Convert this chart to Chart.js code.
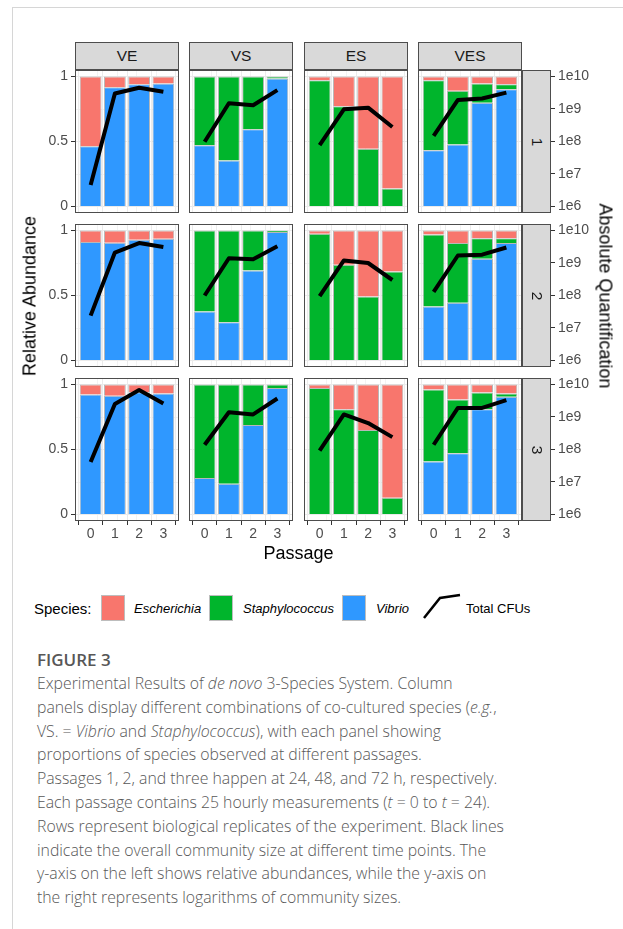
<!DOCTYPE html>
<html>
<head>
<meta charset="utf-8">
<script src="https://cdn.jsdelivr.net/npm/chart.js@4.4.1/dist/chart.umd.min.js"></script>
<style>
  html, body { margin: 0; padding: 0; background: #fff; }
  body { width: 623px; height: 929px; position: relative; overflow: hidden;
         font-family: "Liberation Sans", Arial, sans-serif; }
  .frame-top { position: absolute; left: 12px; top: 7px; right: 0; height: 1px; background: #d6d6d6; }
  .frame-left { position: absolute; left: 12px; top: 7px; bottom: 0; width: 1px; background: #d6d6d6; }
  canvas { position: absolute; }
  .strip { position: absolute; background: #d9d9d9; border: 1px solid #4d4d4d; box-sizing: border-box;
           color: #1a1a1a; font-size: 15.5px; z-index: 2; }
  .strip span { position: absolute; left: 50%; top: 50%; white-space: nowrap; }
  .title { position: absolute; font-size: 18px; color: #000; white-space: nowrap; }
  .leg { position: absolute; white-space: nowrap; color: #000; }
  .key { position: absolute; box-sizing: border-box; border: 1px solid #bdbdbd; }
  .caption { position: absolute; left: 37px; color: #575757; font-family: "Open Sans", "Noto Sans", sans-serif;
             white-space: nowrap; }
</style>
</head>
<body>
<div class="frame-top"></div>
<div class="frame-left"></div>
<div id="plots"></div>
<div id="legend"></div>
<div class="caption" id="figLabel" style="top:648px;font-size:17px;font-weight:600;line-height:24px;">FIGURE 3</div>
<div class="caption" id="figText" style="top:672px;font-size:15.8px;font-weight:300;line-height:23.8px;">
Experimental Results of <i>de novo</i> 3-Species System. Column<br>
panels display different combinations of co-cultured species (<i>e.g.</i>,<br>
VS. = <i>Vibrio</i> and <i>Staphylococcus</i>), with each panel showing<br>
proportions of species observed at different passages.<br>
Passages 1, 2, and three happen at 24, 48, and 72 h, respectively.<br>
Each passage contains 25 hourly measurements (<i>t</i> = 0 to <i>t</i> = 24).<br>
Rows represent biological replicates of the experiment. Black lines<br>
indicate the overall community size at different time points. The<br>
y-axis on the left shows relative abundances, while the y-axis on<br>
the right represents logarithms of community sizes.
</div>
<script>
// ---- data -------------------------------------------------------------
const passages = [0, 1, 2, 3];
const combos = ['VE', 'VS', 'ES', 'VES'];
const replicates = ['1', '2', '3'];
const species = ['Escherichia', 'Staphylococcus', 'Vibrio'];
const abundanceTicks = [0, 0.5, 1];
const cfuTicks = [1e6, 1e7, 1e8, 1e9, 1e10];

// relative abundance: one row per replicate, one value per passage
const vibrioVE      = [[0.464, 0.918, 0.940, 0.946], [0.911, 0.905, 0.928, 0.936], [0.924, 0.913, 0.940, 0.931]];
const escherichiaVE = [[0.536, 0.082, 0.060, 0.054], [0.089, 0.095, 0.072, 0.064], [0.076, 0.087, 0.060, 0.069]];

const vibrioVS = [[0.472, 0.354, 0.595, 0.985], [0.377, 0.295, 0.692, 0.988], [0.281, 0.237, 0.689, 0.974]];
const staphVS  = [[0.528, 0.646, 0.405, 0.015], [0.623, 0.705, 0.308, 0.012], [0.719, 0.763, 0.311, 0.026]];

const staphES       = [[0.972, 0.772, 0.444, 0.138], [0.975, 0.736, 0.492, 0.685], [0.974, 0.809, 0.650, 0.128]];
const escherichiaES = [[0.028, 0.228, 0.556, 0.862], [0.025, 0.264, 0.508, 0.315], [0.026, 0.191, 0.350, 0.872]];

const vibrioVES      = [[0.433, 0.477, 0.798, 0.902], [0.415, 0.444, 0.782, 0.903], [0.408, 0.472, 0.809, 0.905]];
const staphVES       = [[0.539, 0.413, 0.148, 0.039], [0.554, 0.459, 0.159, 0.038], [0.554, 0.413, 0.130, 0.026]];
const escherichiaVES = [[0.028, 0.110, 0.054, 0.059], [0.031, 0.097, 0.059, 0.059], [0.038, 0.115, 0.061, 0.069]];

// total CFUs per replicate and passage
const cfuVE  = [[4.6e6, 3.0e9, 4.5e9, 3.4e9], [2.4e7, 2.1e9, 4.1e9, 3.1e9], [4.1e7, 2.5e9, 6.8e9, 2.6e9]];
const cfuVS  = [[9.8e7, 1.5e9, 1.3e9, 3.8e9], [1.0e8, 1.4e9, 1.3e9, 3.3e9], [1.4e8, 1.4e9, 1.2e9, 3.7e9]];
const cfuES  = [[7.8e7, 9.8e8, 1.1e9, 2.8e8], [9.5e7, 1.2e9, 1.0e9, 3.0e8], [9.3e7, 1.2e9, 6.5e8, 2.4e8]];
const cfuVES = [[1.5e8, 1.9e9, 2.1e9, 3.2e9], [1.3e8, 1.7e9, 1.8e9, 3.0e9], [1.4e8, 1.9e9, 1.9e9, 3.3e9]];

// which series belong to each column panel
const panelSeries = {
  VE:  { Vibrio: vibrioVE,  Staphylococcus: null,     Escherichia: escherichiaVE,  cfu: cfuVE },
  VS:  { Vibrio: vibrioVS,  Staphylococcus: staphVS,  Escherichia: null,           cfu: cfuVS },
  ES:  { Vibrio: null,      Staphylococcus: staphES,  Escherichia: escherichiaES,  cfu: cfuES },
  VES: { Vibrio: vibrioVES, Staphylococcus: staphVES, Escherichia: escherichiaVES, cfu: cfuVES }
};

// ---- styling ----------------------------------------------------------
const fillColors = { Escherichia: '#F8766D', Staphylococcus: '#00B52C', Vibrio: '#2F98FF' };
const stackOrder = ['Vibrio', 'Staphylococcus', 'Escherichia'];
const COL_X = [75, 189, 304, 418];
const ROW_Y = [70, 224, 378];
const PANEL_W = 104, PANEL_H = 143;
const STRIP_W = 29, STRIP_H = 28;
const X_MIN = -0.645, X_MAX = 3.645;
const tickFont = { family: '"Liberation Sans", Arial, sans-serif', size: 14 };
const TICK_TEXT = '#4d4d4d', TICK_MARK = '#333333', GRID = '#ebebeb';
const HIDDEN = 'rgba(0,0,0,0)';

const panelFrame = {
  id: 'panelFrame',
  afterDraw(chart) {
    const { ctx, chartArea: a } = chart;
    ctx.save();
    ctx.strokeStyle = '#4d4d4d';
    ctx.lineWidth = 1;
    ctx.strokeRect(Math.round(a.left) + 0.5, Math.round(a.top) + 0.5,
                   Math.round(a.width) - 1, Math.round(a.height) - 1);
    ctx.restore();
  }
};

const plots = document.getElementById('plots');

function addStrip(x, y, w, h, text, rotate) {
  const d = document.createElement('div');
  d.className = 'strip';
  Object.assign(d.style, { left: x + 'px', top: y + 'px', width: w + 'px', height: h + 'px' });
  const s = document.createElement('span');
  s.textContent = text;
  s.style.transform = 'translate(-50%,-50%)' + (rotate ? ' rotate(90deg)' : '');
  d.appendChild(s);
  plots.appendChild(d);
}

combos.forEach((combo, c) => addStrip(COL_X[c], ROW_Y[0] - STRIP_H, PANEL_W, STRIP_H, combo, false));
replicates.forEach((rep, r) => addStrip(COL_X[3] + PANEL_W, ROW_Y[r], STRIP_W, PANEL_H, rep, true));

const tickValue = ctx => (ctx && ctx.tick) ? ctx.tick.value : NaN;
const isMajorY = v => abundanceTicks.includes(v);

replicates.forEach((rep, r) => {
  combos.forEach((combo, c) => {
    const L = c === 0 ? 50 : 0;
    const R = c === 3 ? 80 : 0;
    const B = r === replicates.length - 1 ? 30 : 0;
    const cv = document.createElement('canvas');
    cv.width = PANEL_W + L + R;
    cv.height = PANEL_H + B;
    cv.style.left = (COL_X[c] - L) + 'px';
    cv.style.top = ROW_Y[r] + 'px';
    plots.appendChild(cv);

    const series = panelSeries[combo];
    const datasets = [{
      type: 'line',
      label: 'Total CFUs',
      data: passages.map((p, i) => ({ x: p, y: series.cfu[r][i] })),
      yAxisID: 'yLog',
      borderColor: '#000',
      borderWidth: 4,
      borderCapStyle: 'butt',
      borderJoinStyle: 'round',
      pointRadius: 0,
      tension: 0,
      order: 0
    }];
    stackOrder.forEach(name => {
      const vals = series[name];
      if (!vals) return;
      datasets.push({
        type: 'bar',
        label: name,
        data: passages.map((p, i) => ({ x: p, y: vals[r][i] })),
        yAxisID: 'y',
        backgroundColor: fillColors[name],
        borderColor: '#b8b8b8',
        borderWidth: 1,
        categoryPercentage: 1,
        barPercentage: 0.9,
        order: 1
      });
    });

    new Chart(cv, {
      type: 'bar',
      data: { datasets },
      plugins: [panelFrame],
      options: {
        responsive: false,
        animation: false,
        devicePixelRatio: 1,
        layout: { padding: 0 },
        plugins: { legend: { display: false }, tooltip: { enabled: false } },
        scales: {
          // passage axis: labelled ticks and major grid at each passage
          x: {
            type: 'linear', min: X_MIN, max: X_MAX, stacked: true, offset: false,
            afterBuildTicks: s => { s.ticks = passages.map(v => ({ value: v })); },
            afterFit: s => { s.height = B; s.paddingLeft = 0; s.paddingRight = 0; },
            ticks: { display: B > 0, autoSkip: false, maxRotation: 0, padding: 1, color: TICK_TEXT, font: tickFont },
            grid: { color: GRID, lineWidth: 1, drawTicks: B > 0, tickLength: 4, tickWidth: 1, tickColor: TICK_MARK },
            border: { display: false }
          },
          // minor grid half-way between passages
          xMinor: {
            type: 'linear', position: 'bottom', min: X_MIN, max: X_MAX,
            afterBuildTicks: s => { s.ticks = [-0.5, 0.5, 1.5, 2.5, 3.5].map(v => ({ value: v })); },
            afterFit: s => { s.height = 0; s.paddingLeft = 0; s.paddingRight = 0; },
            ticks: { display: false },
            grid: { color: GRID, lineWidth: 0.6, drawTicks: false },
            border: { display: false }
          },
          y: {
            type: 'linear', position: 'left', min: -0.05, max: 1.05, stacked: true,
            afterBuildTicks: s => { s.ticks = [0, 0.25, 0.5, 0.75, 1].map(v => ({ value: v })); },
            afterFit: s => { s.width = L; s.paddingTop = 0; s.paddingBottom = 0; },
            ticks: { display: L > 0, padding: 3, color: TICK_TEXT, font: tickFont,
                     callback: v => isMajorY(v) ? String(v) : '' },
            grid: { color: GRID, lineWidth: ctx => isMajorY(tickValue(ctx)) ? 1 : 0.6,
                    drawTicks: L > 0, tickLength: 4, tickWidth: 1,
                    tickColor: ctx => isMajorY(tickValue(ctx)) ? TICK_MARK : HIDDEN },
            border: { display: false }
          },
          yLog: {
            type: 'logarithmic', position: 'right', display: R > 0,
            min: Math.pow(10, 5.8), max: Math.pow(10, 10.2),
            afterBuildTicks: s => { s.ticks = cfuTicks.map(v => ({ value: v })); },
            afterFit: s => { s.width = R; s.paddingTop = 0; s.paddingBottom = 0; },
            ticks: { padding: 3, color: TICK_TEXT, font: tickFont,
                     callback: v => '1e' + Math.round(Math.log10(v)) },
            grid: { drawOnChartArea: false, drawTicks: true, tickLength: STRIP_W + 4, tickWidth: 1, tickColor: TICK_MARK },
            border: { display: false }
          }
        }
      }
    });
  });
});

// ---- axis titles ------------------------------------------------------
function addTitle(text, cx, cy, angle) {
  const d = document.createElement('div');
  d.className = 'title';
  d.textContent = text;
  Object.assign(d.style, { left: cx + 'px', top: cy + 'px',
    transform: 'translate(-50%,-50%)' + (angle ? ' rotate(' + angle + 'deg)' : '') });
  document.body.appendChild(d);
}
const plotMidY = (ROW_Y[0] + ROW_Y[2] + PANEL_H) / 2;
addTitle('Relative Abundance', 30, plotMidY, -90);
addTitle('Absolute Quantification', 605, plotMidY, 90);
addTitle('Passage', (COL_X[0] + COL_X[3] + PANEL_W) / 2, 553, 0);

// ---- legend -----------------------------------------------------------
const legend = document.getElementById('legend');
function legText(text, x, size, italic) {
  const s = document.createElement('div');
  s.className = 'leg';
  s.textContent = text;
  Object.assign(s.style, { left: x + 'px', top: '608px', fontSize: size + 'px',
    transform: 'translateY(-50%)', fontStyle: italic ? 'italic' : 'normal' });
  legend.appendChild(s);
}
legText('Species:', 34, 15, false);
const keyX = [101, 209, 342];
const labelX = [134, 243, 376];
species.forEach((name, i) => {
  const k = document.createElement('div');
  k.className = 'key';
  Object.assign(k.style, { left: keyX[i] + 'px', top: '595px', width: '24px', height: '26px',
    background: fillColors[name] });
  legend.appendChild(k);
  legText(name, labelX[i], 13, true);
});
const svgNS = 'http://www.w3.org/2000/svg';
const svg = document.createElementNS(svgNS, 'svg');
svg.setAttribute('width', '40'); svg.setAttribute('height', '28');
Object.assign(svg.style, { position: 'absolute', left: '422px', top: '593px' });
const path = document.createElementNS(svgNS, 'polyline');
path.setAttribute('points', '2,25 18,5 38,2');
path.setAttribute('fill', 'none');
path.setAttribute('stroke', '#000');
path.setAttribute('stroke-width', '2.5');
svg.appendChild(path);
legend.appendChild(svg);
legText('Total CFUs', 466, 13, false);
</script>
</body>
</html>
